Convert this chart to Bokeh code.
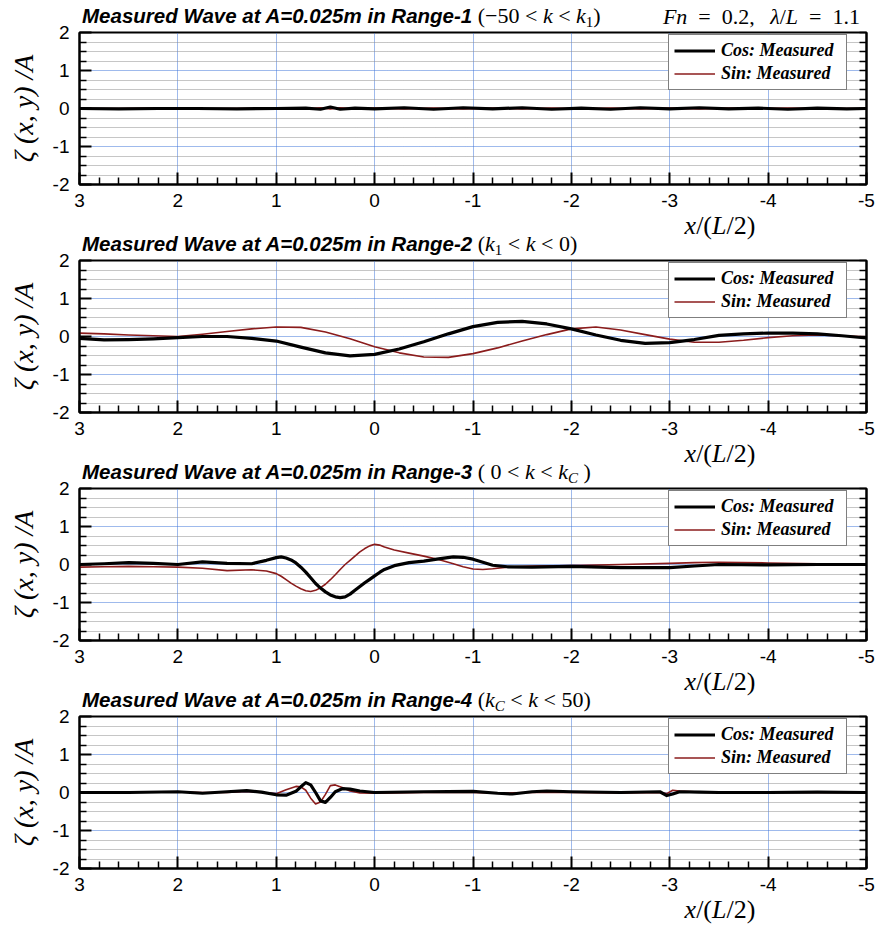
from bokeh.plotting import figure
from bokeh.models import Range1d, LinearAxis, FixedTicker, Div
from bokeh.layouts import column
from bokeh.embed import file_html
from bokeh.resources import INLINE

# ---------------- data ----------------
X_TICKS = [3, 2, 1, 0, -1, -2, -3, -4, -5]
Y_TICKS = [-2, -1, 0, 1, 2]
X_MINOR = [round(3 - 0.2 * i, 1) for i in range(41) if i % 5]
Y_MINOR = [round(-2 + 0.25 * i, 2) for i in range(17) if i % 4]
Y_ALL = [round(-2 + 0.25 * i, 2) for i in range(17)]

x1 = [3.0, 2.6, 2.2, 1.8, 1.4, 1.0, 0.7, 0.55, 0.45, 0.35, 0.2, 0.0, -0.3, -0.6, -0.9,
      -1.2, -1.5, -1.8, -2.1, -2.4, -2.7, -3.0, -3.3, -3.6, -3.9, -4.2, -4.5, -4.8, -5.0]
cos1 = [0.0, -0.01, 0.0, 0.0, -0.01, 0.0, 0.01, -0.02, 0.04, -0.02, 0.01, -0.01, 0.02, -0.02, 0.02,
        -0.01, 0.02, -0.02, 0.01, -0.02, 0.02, -0.01, 0.02, -0.01, 0.01, -0.02, 0.01, -0.01, 0.0]
sin1 = [0.0, 0.0, 0.01, -0.01, 0.0, 0.01, -0.01, 0.02, -0.01, 0.02, -0.01, 0.01, -0.01, 0.01, -0.01,
        0.01, -0.01, 0.01, -0.01, 0.01, -0.01, 0.01, -0.01, 0.01, 0.0, 0.01, 0.0, 0.0, 0.0]

x2 = [3.0, 2.75, 2.5, 2.25, 2.0, 1.75, 1.5, 1.25, 1.0, 0.75, 0.5, 0.25, 0.0, -0.25, -0.5, -0.75,
      -1.0, -1.25, -1.5, -1.75, -2.0, -2.25, -2.5, -2.75, -3.0, -3.25, -3.5, -3.75, -4.0, -4.25,
      -4.5, -4.75, -5.0]
cos2 = [-0.05, -0.09, -0.08, -0.06, -0.03, 0.0, 0.0, -0.05, -0.12, -0.28, -0.43, -0.51, -0.47,
        -0.33, -0.14, 0.07, 0.26, 0.37, 0.40, 0.33, 0.20, 0.04, -0.10, -0.18, -0.16, -0.08, 0.03,
        0.07, 0.09, 0.09, 0.07, 0.02, -0.04]
sin2 = [0.09, 0.07, 0.04, 0.02, 0.0, 0.06, 0.13, 0.20, 0.25, 0.24, 0.12, -0.06, -0.27, -0.43,
        -0.54, -0.55, -0.45, -0.30, -0.12, 0.05, 0.20, 0.25, 0.17, 0.05, -0.07, -0.15, -0.15,
        -0.10, -0.03, 0.02, 0.04, 0.02, -0.01]

x3 = [3.0, 2.75, 2.5, 2.25, 2.0, 1.75, 1.5, 1.25, 1.1, 1.0,
      0.95, 0.9, 0.85, 0.8, 0.75, 0.7, 0.65, 0.6, 0.55, 0.5,
      0.45, 0.4, 0.35, 0.3, 0.25, 0.2, 0.15, 0.1, 0.05, 0.0,
      -0.05, -0.1, -0.2, -0.35, -0.5, -0.65, -0.8, -0.9, -1.0,
      -1.1, -1.2, -1.35, -1.6, -2.0, -2.5, -3.0, -3.25, -3.5, -4.0,
      -4.5, -5.0]
cos3 = [0.0, 0.02, 0.05, 0.03, 0.0, 0.07, 0.03, 0.02, 0.11, 0.18,
        0.2, 0.17, 0.12, 0.04, -0.07, -0.2, -0.35, -0.5, -0.62, -0.72,
        -0.8, -0.85, -0.87, -0.85, -0.78, -0.68, -0.58, -0.48, -0.39, -0.3,
        -0.21, -0.13, -0.03, 0.05, 0.09, 0.15, 0.2, 0.19, 0.14,
        0.06, -0.02, -0.06, -0.07, -0.05, -0.08, -0.08, -0.04, 0.0, -0.01,
        0.0, 0.0]
sin3 = [-0.07, -0.06, -0.05, -0.06, -0.07, -0.1, -0.16, -0.14, -0.17, -0.24,
        -0.31, -0.4, -0.49, -0.57, -0.64, -0.69, -0.71, -0.68, -0.61, -0.52,
        -0.4, -0.27, -0.13, 0.0, 0.11, 0.22, 0.33, 0.42, 0.49, 0.53,
        0.51, 0.46, 0.38, 0.3, 0.22, 0.13, 0.02, -0.06, -0.12,
        -0.13, -0.11, -0.07, -0.04, -0.03, 0.0, 0.03, 0.05, 0.06, 0.04,
        0.02, 0.01]

x4 = [3.0, 2.5, 2.0, 1.75, 1.5, 1.3, 1.15, 1.0, 0.9, 0.8, 0.75, 0.7, 0.65, 0.6, 0.55, 0.5, 0.45,
      0.4, 0.33, 0.25, 0.15, 0.0, -0.5, -1.0, -1.25, -1.4, -1.6, -1.75, -2.0, -2.5, -2.9, -2.97,
      -3.03, -3.1, -3.3, -3.5, -4.0, -4.5, -5.0]
cos4 = [0.0, 0.0, 0.02, -0.02, 0.02, 0.05, 0.01, -0.06, -0.07, 0.03, 0.15, 0.26, 0.2, 0.0, -0.22,
        -0.26, -0.13, 0.02, 0.1, 0.09, 0.04, 0.0, 0.02, 0.03, -0.02, -0.04, 0.02, 0.04, 0.02, 0.0,
        0.02, -0.08, -0.04, 0.02, 0.01, 0.0, 0.0, 0.01, 0.0]
sin4 = [0.0, 0.01, 0.02, 0.0, 0.0, 0.03, 0.0, -0.03, 0.07, 0.16, 0.15, 0.06, -0.15, -0.3, -0.25,
        -0.05, 0.18, 0.2, 0.13, 0.04, -0.01, -0.02, 0.0, 0.0, -0.02, -0.01, 0.0, 0.01, 0.0, -0.01,
        0.0, -0.03, 0.06, 0.04, 0.01, 0.0, 0.0, 0.0, 0.0]

TITLE_MAIN = ["Measured Wave at A=0.025m in Range-1", "Measured Wave at A=0.025m in Range-2",
              "Measured Wave at A=0.025m in Range-3", "Measured Wave at A=0.025m in Range-4"]
TITLE_RANGE = [
    "(\u221250 &lt; <i>k</i> &lt; <i>k</i><sub>1</sub>)",
    "(<i>k</i><sub>1</sub> &lt; <i>k</i> &lt; 0)",
    "( 0 &lt; <i>k</i> &lt; <i>k</i><sub><i>C</i></sub> )",
    "(<i>k</i><sub><i>C</i></sub> &lt; <i>k</i> &lt; 50)",
]
COND_TEXT = "<i>Fn</i>&ensp;=&ensp;0.2,&ensp;&thinsp;<i>\u03bb</i>/<i>L</i>&ensp;=&ensp;1.1"
LEGEND_COS = "Cos: Measured"
LEGEND_SIN = "Sin: Measured"
XLABEL = "<i>x</i>/(<i>L</i>/2)"
YLABEL = "\u03b6 (x, y) /A"

COS_COLOR = "black"
SIN_COLOR = "#8b1c1c"
GRID_BLUE = "#3f74d8"
GRID_GRAY = "#8c8c8c"

SERIES = [(x1, cos1, sin1), (x2, cos2, sin2), (x3, cos3, sin3), (x4, cos4, sin4)]

# ---------------- layout constants ----------------
W = 877
FIG_H = 196          # 10 top + 152 frame + 34 bottom
DIV_FIRST = 22
DIV_MID = 32
DIV_LAST = 20

SERIF = "'Liberation Serif', serif"
SANS = "'Liberation Sans', sans-serif"
SUB = "font-size:15px;line-height:0;vertical-align:-4px;"


def title_block(i, baseline):
    top = baseline - 18.4
    rng = TITLE_RANGE[i].replace("<sub>", f'<sub style="{SUB}">')
    html = (f'<div style="position:absolute;left:82px;top:{top}px;white-space:nowrap;'
            f'font-family:{SERIF};font-size:22px;line-height:22px;color:black;">'
            f'<span style="font-family:{SANS};font-weight:bold;font-style:italic;'
            f'font-size:20.5px;">{TITLE_MAIN[i]}</span> '
            f'<span>{rng}</span></div>')
    return html


def xlabel_block(baseline):
    top = baseline - 21.8
    return (f'<div style="position:absolute;left:620px;width:200px;text-align:center;'
            f'top:{top}px;white-space:nowrap;font-family:{SERIF};font-size:26px;'
            f'line-height:26px;color:black;">{XLABEL}</div>')


def make_div(h, inner):
    html = (f'<div style="position:relative;width:{W}px;height:{h}px;overflow:visible;">'
            f'{inner}</div>')
    return Div(text=html, width=W, height=h, margin=0, styles={"overflow": "visible"})


def style_axis(ax, size="19px"):
    ax.axis_line_width = 2
    ax.axis_line_color = "black"
    ax.major_tick_in = 12
    ax.major_tick_out = 0
    ax.minor_tick_in = 7
    ax.minor_tick_out = 0
    ax.major_tick_line_width = 2
    ax.minor_tick_line_width = 1.5
    ax.major_tick_line_color = "black"
    ax.minor_tick_line_color = "black"
    ax.major_label_text_font = "Liberation Sans"
    ax.major_label_text_font_size = size
    ax.major_label_text_color = "black"


def make_panel(i):
    xs, cs, ss = SERIES[i]
    p = figure(width=W, height=FIG_H, x_range=Range1d(3, -5), y_range=Range1d(-2, 2),
               output_backend="svg", toolbar_location=None, margin=0,
               min_border_left=79, min_border_right=11, min_border_top=10, min_border_bottom=34)
    p.outline_line_color = "black"
    p.outline_line_width = 2
    p.background_fill_color = "white"
    p.border_fill_color = None

    xt = FixedTicker(ticks=X_TICKS, minor_ticks=X_MINOR)
    yt = FixedTicker(ticks=Y_TICKS, minor_ticks=Y_MINOR)

    p.xaxis.ticker = xt
    p.yaxis.ticker = yt
    for ax in p.xaxis:
        style_axis(ax)
        ax.major_label_standoff = 9
        ax.major_label_overrides = {t: str(t) for t in X_TICKS}
    for ax in p.yaxis:
        style_axis(ax)
        ax.major_label_standoff = 10
        ax.major_label_overrides = {t: str(t) for t in Y_TICKS}
        ax.axis_label = YLABEL
        ax.axis_label_text_font = "Liberation Serif"
        ax.axis_label_text_font_style = "italic"
        ax.axis_label_text_font_size = "28px"
        ax.axis_label_standoff = 11
        ax.axis_label_text_color = "black"

    # mirrored ticks on the right side (no labels)
    ra = LinearAxis(ticker=FixedTicker(ticks=[], minor_ticks=Y_ALL))
    style_axis(ra)
    ra.major_label_standoff = 0
    p.add_layout(ra, "right")

    p.xgrid.ticker = xt
    p.xgrid.grid_line_color = GRID_BLUE
    p.xgrid.grid_line_dash = "1 1"
    p.xgrid.grid_line_width = 1
    p.ygrid.ticker = yt
    p.ygrid.grid_line_color = GRID_BLUE
    p.ygrid.grid_line_dash = "1 1"
    p.ygrid.grid_line_width = 1
    p.ygrid.minor_grid_line_color = GRID_GRAY
    p.ygrid.minor_grid_line_dash = "1 1"
    p.ygrid.minor_grid_line_width = 1

    p.line(xs, ss, line_color=SIN_COLOR, line_width=1.6, line_join="round",
           legend_label=LEGEND_SIN)
    p.line(xs, cs, line_color=COS_COLOR, line_width=3.2, line_join="round",
           legend_label=LEGEND_COS)

    leg = p.legend[0]
    leg.items = [leg.items[1], leg.items[0]]
    leg.location = (589, 94)
    leg.border_line_color = "black"
    leg.border_line_width = 1
    leg.background_fill_color = "white"
    leg.background_fill_alpha = 1
    leg.label_text_font = "Liberation Serif"
    leg.label_text_font_style = "bold italic"
    leg.label_text_font_size = "18px"
    leg.label_text_color = "black"
    leg.glyph_width = 41
    leg.glyph_height = 21
    leg.label_height = 21
    leg.label_width = 120
    leg.label_standoff = 6
    leg.padding = 5
    leg.spacing = 2
    leg.margin = 0
    return p


items = []
cond = (f'<div style="position:absolute;right:17px;top:{24 - 18.4}px;white-space:nowrap;'
        f'font-family:{SERIF};font-size:22px;line-height:22px;color:black;">{COND_TEXT}</div>')
items.append(make_div(DIV_FIRST, title_block(0, 23) + cond))
for i in range(4):
    items.append(make_panel(i))
    if i < 3:
        items.append(make_div(DIV_MID, xlabel_block(17) + title_block(i + 1, 33)))
    else:
        items.append(make_div(DIV_LAST, xlabel_block(17)))

layout = column(*items, spacing=0, margin=0)

open("out.html", "w").write(file_html(layout, INLINE))
